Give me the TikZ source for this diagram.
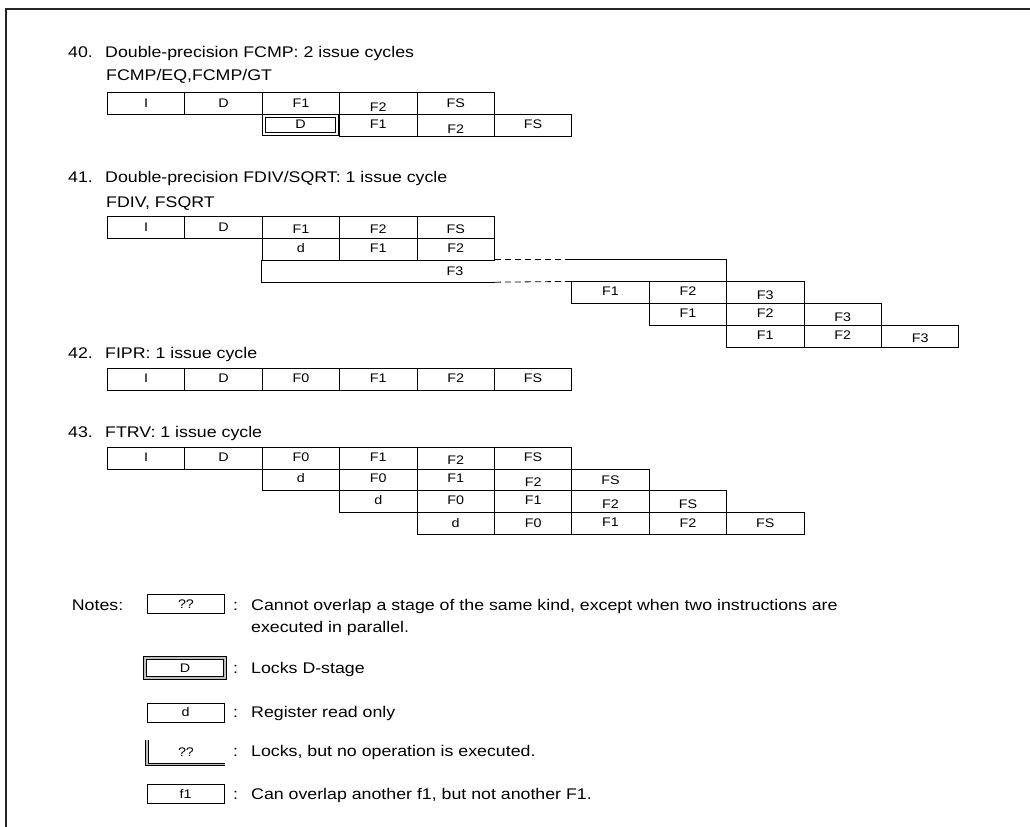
\documentclass[tikz,border=0pt]{standalone}
\usepackage{fontspec}
\setmainfont{Liberation Sans}[FakeStretch=1.15]
\usetikzlibrary{positioning}
\newcommand\txtfont{\fontsize{15.5}{20}\selectfont}
\newcommand\cellfont{\fontsize{12.5}{14}\selectfont}

\begin{document}
\begin{tikzpicture}[x=1bp, y=-1bp, font=\txtfont,
    cell/.style={draw, line width=0.8bp, minimum width=77.4bp, minimum height=21.8bp, inner sep=0pt, anchor=north west, font=\cellfont},
    up/.style={text height=6bp, text depth=0pt},
    mid/.style={text height=9bp, text depth=0pt},
    dn/.style={text height=13bp, text depth=0pt},
    lo/.style={text height=17bp, text depth=0pt},
    lockd/.style={draw, line width=1bp, double=#1, double distance=2bp},
    title/.style={anchor=base west, inner sep=0pt},
    keybox/.style={draw, line width=0.8bp, minimum width=77bp, minimum height=19bp, inner sep=0pt, font=\cellfont},
    gap/.style={line width=0.8bp, dash pattern=on 6bp off 4bp}]
\useasboundingbox (0,0) rectangle (1030,827);
\draw[line width=1.6bp, black!85] (6,827) -- (6,9) -- (1030,9);

\node[title] (t40) at (68,57) {\makebox[37bp][l]{40.}Double-precision FCMP: 2 issue cycles};
\node[title] (s40) at (106,80.5) {FCMP/EQ,FCMP/GT};
\foreach \lab/\st [count=\i from 0] in {I/mid,D/mid,F1/mid,F2/lo,FS/mid}
  \node[cell,\st] (p40a\i) at ({107+\i*77.4},92) {\lab};
\node[lockd=white, minimum width=73.4bp, minimum height=17.8bp, inner sep=0pt, font=\cellfont] (p40b2) at ({107+2.5*77.4},124.7) {D};
\foreach \lab/\st [count=\i from 3] in {F1/up,F2/lo,FS/up}
  \node[cell,\st] (p40b\i) at ({107+\i*77.4},113.8) {\lab};

\node[title] (t41) at (68,182.2) {\makebox[37bp][l]{41.}Double-precision FDIV/SQRT: 1 issue cycle};
\node[title] (s41) at (106,207) {FDIV, FSQRT};
\foreach \lab/\st [count=\i from 0] in {I/mid,D/mid,F1/dn,F2/dn,FS/dn}
  \node[cell,\st] (p41a\i) at ({107+\i*77.4},216) {\lab};
\foreach \lab/\st [count=\i from 2] in {d/up,F1/up,F2/up}
  \node[cell,\st] (p41b\i) at ({107+\i*77.4},237.8) {\lab};
\node[cell, draw=none, minimum width=232.2bp] (p41c) at ({107+2*77.4},259.6) {};
\node[font=\cellfont, mid, inner sep=0pt] (f3) at (455,270.5) {F3};
\foreach \lab/\st [count=\i from 6] in {F1/up,F2/up,F3/dn}
  \node[cell,\st] (p41d\i) at ({107+\i*77.4},281.4) {\lab};
\foreach \lab/\st [count=\i from 7] in {F1/up,F2/up,F3/dn}
  \node[cell,\st] (p41e\i) at ({107+\i*77.4},303.2) {\lab};
\foreach \lab/\st [count=\i from 8] in {F1/up,F2/up,F3/dn}
  \node[cell,\st] (p41f\i) at ({107+\i*77.4},325) {\lab};
\coordinate (dashend) at (p41d6.north west |- p41c.north);
\draw[line width=0.8bp] (p41c.north west) -- (p41c.south west) -- (p41c.south east);
\draw[gap] (p41c.south east) -- (p41d6.north west);
\draw[gap] (p41c.north east) -- (dashend);
\draw[line width=0.8bp] (dashend) -| (p41d8.north west);

\node[title] (t42) at (68,358.5) {\makebox[37bp][l]{42.}FIPR: 1 issue cycle};
\foreach \lab/\st [count=\i from 0] in {I/up,D/up,F0/up,F1/up,F2/up,FS/up}
  \node[cell,\st] (p42a\i) at ({107+\i*77.4},368) {\lab};

\node[title] (t43) at (68,437.2) {\makebox[37bp][l]{43.}FTRV: 1 issue cycle};
\foreach \lab/\st [count=\i from 0] in {I/up,D/up,F0/up,F1/up,F2/dn,FS/up}
  \node[cell,\st] (p43a\i) at ({107+\i*77.4},446.7) {\lab};
\foreach \lab/\st [count=\i from 2] in {d/up,F0/up,F1/up,F2/dn,FS/mid}
  \node[cell,\st] (p43b\i) at ({107+\i*77.4},468.5) {\lab};
\foreach \lab/\st [count=\i from 3] in {d/up,F0/up,F1/up,F2/dn,FS/dn}
  \node[cell,\st] (p43c\i) at ({107+\i*77.4},490.3) {\lab};
\foreach \lab/\st [count=\i from 4] in {d/mid,F0/mid,F1/up,F2/mid,FS/mid}
  \node[cell,\st] (p43d\i) at ({107+\i*77.4},512.1) {\lab};

\node[title] (notes) at (71.7,610.5) {Notes:};
\node[keybox] (k1) at (186,604) {??};
\node[title] (k1a) at (233,610.5) {\makebox[18bp][l]{:}Cannot overlap a stage of the same kind, except when two instructions are};
\node[title] (k1b) at (251,632.5) {executed in parallel.};
\node[lockd=gray!50, minimum width=80bp, minimum height=20bp, inner sep=0pt, font=\cellfont] (k2) at (185,668) {D};
\node[title] (k2a) at (233,673.5) {\makebox[18bp][l]{:}Locks D-stage};
\node[keybox] (k3) at (185.5,712.5) {d};
\node[title] (k3a) at (233,717.5) {\makebox[18bp][l]{:}Register read only};
\node[keybox, draw=none, minimum height=24bp] (k4) at (186,752) {??};
\draw[lockd=gray!50, line width=0.9bp, double distance=1.6bp] (k4.north west) -- (k4.south west) -- (k4.south east);
\node[title] (k4a) at (233,756.5) {\makebox[18bp][l]{:}Locks, but no operation is executed.};
\node[keybox] (k5) at (185.5,793.5) {f1};
\node[title] (k5a) at (233,799.5) {\makebox[18bp][l]{:}Can overlap another f1, but not another F1.};
\end{tikzpicture}
\end{document}
